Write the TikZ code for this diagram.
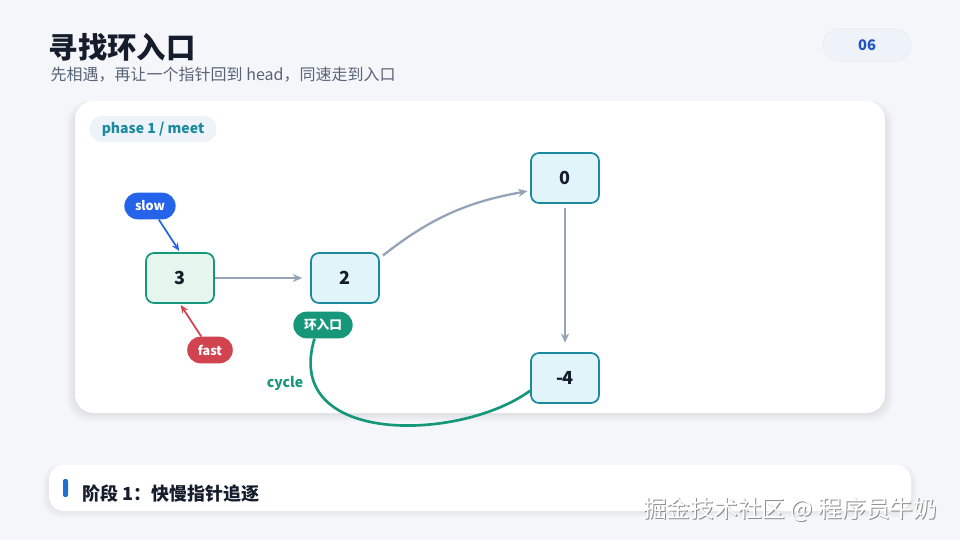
\documentclass[tikz,border=0pt]{standalone}
\usepackage{fontspec}
\setmainfont{Noto Sans CJK SC}
\usepackage{xcolor}
\usepackage{tikz}
\usetikzlibrary{arrows.meta}

\definecolor{bgc}{HTML}{F4F6FA}
\definecolor{inkc}{HTML}{151C2B}
\definecolor{subc}{HTML}{5A6478}
\definecolor{tealc}{HTML}{1C8A9E}
\definecolor{greenc}{HTML}{16977A}
\definecolor{greenfill}{HTML}{E5F6EE}
\definecolor{cyanfill}{HTML}{E1F4FA}
\definecolor{bluec}{HTML}{2563EB}
\definecolor{redc}{HTML}{D0434F}
\definecolor{linkc}{HTML}{94A3B8}
\definecolor{tagfill}{HTML}{EEF3FA}

\tikzset{
  listnode/.style={draw=tealc, fill=cyanfill, line width=1.3pt, rounded corners=6pt,
    minimum width=51pt, minimum height=37.5pt, font=\bfseries\fontsize{13.5}{15}\selectfont, text=inkc},
  pill/.style={rounded corners=10pt, minimum height=20pt, inner xsep=8pt,
    font=\bfseries\fontsize{9.5}{11}\selectfont, text=white},
  link/.style={draw=linkc, line width=1.7pt, -{Stealth[length=7pt,width=6pt]}},
  shade/.style={fill=black, opacity=0.018}
}

\begin{document}
\begin{tikzpicture}[x=0.75pt,y=-0.75pt]
  \useasboundingbox (0,0) rectangle (960,540);
  \fill[bgc] (0,0) rectangle (960,540);

  \node[anchor=west, font=\bfseries\fontsize{22}{25}\selectfont, text=inkc] (title) at (44,47) {寻找环入口};
  \node[anchor=west, font=\fontsize{12}{14}\selectfont, text=subc] (subtitle) at (46,75) {先相遇，再让一个指针回到 head，同速走到入口};
  \node[draw=black!8, fill=tagfill, rounded corners=12pt, minimum width=66pt, minimum height=24pt,
    font=\bfseries\fontsize{11}{13}\selectfont, text=bluec!85!black] (pagenum) at (867,45) {06};

  \foreach \s in {2,4,6,8} {
    \fill[shade, rounded corners=16pt] (75-\s,101-\s/2+4) rectangle (885+\s,413+\s);
  }
  \fill[white, rounded corners=14pt] (75,101) rectangle (885,413);
  \node[fill=tagfill, rounded corners=9pt, minimum width=95pt, minimum height=19.5pt,
    font=\bfseries\fontsize{10.5}{12}\selectfont, text=tealc] (phase) at (153,129) {phase 1 / meet};

  \node[listnode, draw=greenc, fill=greenfill] (n3) at (180,278) {3};
  \node[listnode] (n2) at (345,278) {2};
  \node[listnode] (n0) at (565,178) {0};
  \node[listnode] (m4) at (565,378) {-4};

  \draw[link, shorten >=6pt] (n3) -- (n2);
  \draw[link, shorten <=3pt, shorten >=2pt] (n2.30) to[bend left=14] (n0.200);
  \draw[link, shorten <=3pt, shorten >=7pt] (n0) -- (m4);

  \node[pill, fill=bluec] (slow) at (150,206) {slow};
  \node[pill, fill=redc] (fast) at (210,350) {fast};
  \node[pill, fill=greenc] (entry) at (323,325) {环入口};
  \draw[bluec, line width=1.3pt, -{Stealth[length=6pt,width=5pt]}, shorten >=1pt] (slow) -- (n3.north);
  \draw[redc, line width=1.3pt, -{Stealth[length=6pt,width=5pt]}, shorten >=1pt] (fast) -- (n3.south);

  \draw[greenc, line width=2pt] (m4.200) .. controls (460,442) and (282,446) .. (entry.238);
  \node[font=\bfseries\fontsize{10.5}{12}\selectfont, text=greenc] (cyclelbl) at (285,383) {cycle};

  \foreach \s in {2,4,6} {
    \fill[shade, rounded corners=13pt] (49-\s,465-\s/2+3) rectangle (911+\s,511+\s);
  }
  \fill[white, rounded corners=11pt] (49,465) rectangle (911,511);
  \fill[bluec!70!tealc, rounded corners=1.5pt] (63,479) rectangle (68,497);
  \node[anchor=west, font=\bfseries\fontsize{13.5}{15}\selectfont, text=inkc] (stage) at (78,494) {阶段 1：快慢指针追逐};

  \node[anchor=east, font=\fontsize{17.8}{20}\selectfont, text=black!45] at (943,510) {掘金技术社区 @ 程序员牛奶};
  \node[anchor=east, font=\fontsize{17.8}{20}\selectfont, text=white] (mark) at (942,509) {掘金技术社区 @ 程序员牛奶};
\end{tikzpicture}
\end{document}
